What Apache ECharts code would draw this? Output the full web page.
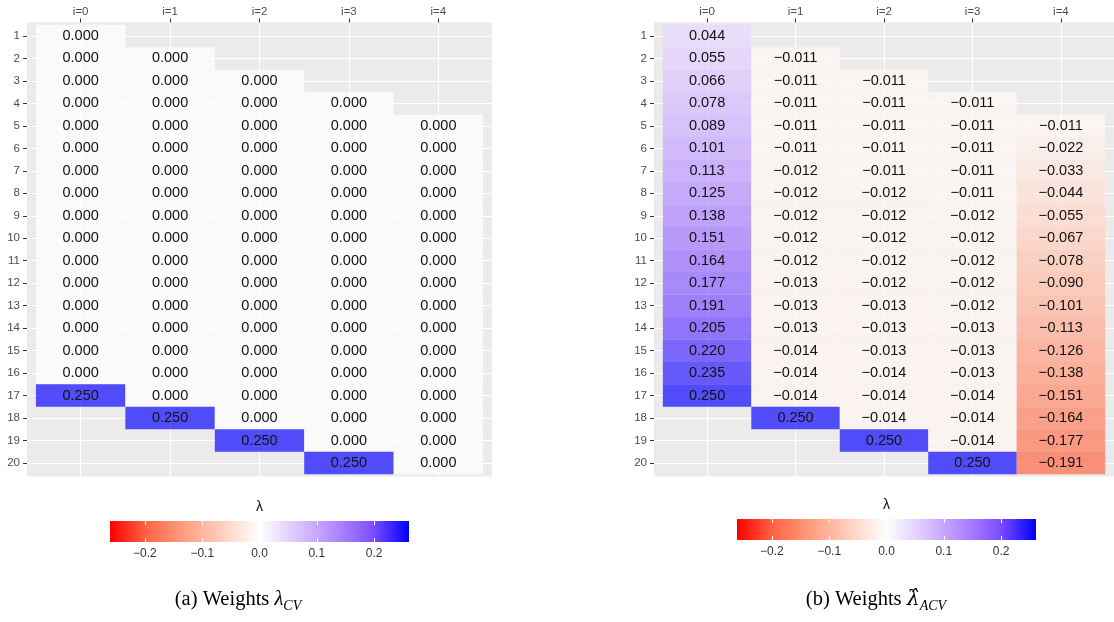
<!DOCTYPE html>
<html>
<head>
<meta charset="utf-8">
<script src="https://cdn.jsdelivr.net/npm/echarts@6/dist/echarts.min.js"></script>
<style>
  html, body { margin: 0; padding: 0; background: #fff; }
  #main { width: 1114px; height: 622px; }
</style>
</head>
<body>
<div id="main"></div>
<script>
// columns i=0..4, rows 1..20; column i starts at row firstRow[i]
var xLabels = ['i=0', 'i=1', 'i=2', 'i=3', 'i=4'];
var rowLabels = [1, 2, 3, 4, 5, 6, 7, 8, 9, 10, 11, 12, 13, 14, 15, 16, 17, 18, 19, 20];
var firstRow = [1, 2, 3, 4, 5];

// (a) weights lambda_CV
var cvWeights = [
  [0, 0, 0, 0, 0, 0, 0, 0, 0, 0, 0, 0, 0, 0, 0, 0, 0.250],
  [0, 0, 0, 0, 0, 0, 0, 0, 0, 0, 0, 0, 0, 0, 0, 0, 0.250],
  [0, 0, 0, 0, 0, 0, 0, 0, 0, 0, 0, 0, 0, 0, 0, 0, 0.250],
  [0, 0, 0, 0, 0, 0, 0, 0, 0, 0, 0, 0, 0, 0, 0, 0, 0.250],
  [0, 0, 0, 0, 0, 0, 0, 0, 0, 0, 0, 0, 0, 0, 0, 0]
];

// (b) weights lambda-hat_ACV
var acvWeights = [
  [0.044, 0.055, 0.066, 0.078, 0.089, 0.101, 0.113, 0.125, 0.138, 0.151, 0.164, 0.177, 0.191, 0.205, 0.220, 0.235, 0.250],
  [-0.011, -0.011, -0.011, -0.011, -0.011, -0.012, -0.012, -0.012, -0.012, -0.012, -0.013, -0.013, -0.013, -0.014, -0.014, -0.014, 0.250],
  [-0.011, -0.011, -0.011, -0.011, -0.011, -0.012, -0.012, -0.012, -0.012, -0.012, -0.013, -0.013, -0.013, -0.014, -0.014, -0.014, 0.250],
  [-0.011, -0.011, -0.011, -0.011, -0.011, -0.012, -0.012, -0.012, -0.012, -0.012, -0.013, -0.013, -0.013, -0.014, -0.014, -0.014, 0.250],
  [-0.011, -0.022, -0.033, -0.044, -0.055, -0.067, -0.078, -0.090, -0.101, -0.113, -0.126, -0.138, -0.151, -0.164, -0.177, -0.191]
];

var scaleLimit = 0.261;
var colorbarTicks = [-0.2, -0.1, 0, 0.1, 0.2];
var gradientColors = ['#ff0000', '#ff6746', '#ff9e81', '#ffcfbf', '#ffffff', '#dcc5ff', '#b38bff', '#7e51ff', '#0000ff'];

function toCells(cols) {
  var out = [];
  cols.forEach(function (col, c) {
    col.forEach(function (v, k) {
      out.push([c, firstRow[c] + k, v]);
    });
  });
  return out;
}

function fmt(v) {
  return (v < 0 ? '\u2212' : '') + Math.abs(v).toFixed(3);
}

function renderTile(params, api) {
  var x = api.value(0), y = api.value(1), v = api.value(2);
  var a = api.coord([x - 0.5, y - 0.5]);
  var b = api.coord([x + 0.5, y + 0.5]);
  return {
    type: 'group',
    children: [{
      type: 'rect',
      shape: {
        x: Math.min(a[0], b[0]), y: Math.min(a[1], b[1]),
        width: Math.abs(b[0] - a[0]), height: Math.abs(b[1] - a[1])
      },
      style: { fill: echarts.color.modifyAlpha(api.visual('color'), 0.72) }
    }, {
      type: 'text',
      x: (a[0] + b[0]) / 2,
      y: (a[1] + b[1]) / 2,
      style: {
        text: fmt(v), align: 'center', verticalAlign: 'middle',
        fill: '#111', font: '14.5px "Liberation Sans"'
      }
    }]
  };
}

function renderBar(params, api) {
  var a = api.coord([api.value(0), 0]);
  var b = api.coord([api.value(1), 1]);
  var stops = gradientColors.map(function (c, i) {
    return { offset: i / (gradientColors.length - 1), color: c };
  });
  return {
    type: 'rect',
    shape: { x: a[0], y: b[1], width: b[0] - a[0], height: a[1] - b[1] },
    style: { fill: new echarts.graphic.LinearGradient(0, 0, 1, 0, stops) }
  };
}

var xIdx = xLabels.map(function (_, i) { return i; });
var axisFont = { color: '#4d4d4d', fontSize: 11.5, fontFamily: 'Liberation Sans' };

function heatAxes(g) {
  return {
    x: {
      gridIndex: g, type: 'value', position: 'top', min: -0.6, max: 4.6,
      axisLine: { show: false, onZero: false },
      axisTick: { show: true, length: 4, customValues: xIdx, lineStyle: { color: '#333' } },
      axisLabel: Object.assign({ customValues: xIdx, margin: 5, formatter: function (v) { return xLabels[v]; } }, axisFont),
      splitLine: { show: true, lineStyle: { color: '#fff', width: 1.1 } }
    },
    y: {
      gridIndex: g, type: 'value', inverse: true, min: 0.4, max: 20.6,
      axisLine: { show: false, onZero: false },
      axisTick: { show: true, length: 4, customValues: rowLabels, lineStyle: { color: '#333' } },
      axisLabel: Object.assign({ customValues: rowLabels, margin: 7 }, axisFont),
      splitLine: { show: true, lineStyle: { color: '#fff', width: 1.1 } }
    }
  };
}

function barAxes(g) {
  var tick = { show: true, inside: true, length: 4, customValues: colorbarTicks, lineStyle: { color: '#fff', width: 1 } };
  return {
    xs: [{
      gridIndex: g, type: 'value', position: 'bottom', min: -scaleLimit, max: scaleLimit, z: 10,
      axisLine: { show: false, onZero: false }, axisTick: tick, splitLine: { show: false },
      axisLabel: {
        customValues: colorbarTicks, margin: 6, color: '#333', fontSize: 12, fontFamily: 'Liberation Sans',
        formatter: function (v) { return (v < 0 ? '\u2212' : '') + Math.abs(v).toFixed(1); }
      }
    }, {
      gridIndex: g, type: 'value', position: 'top', min: -scaleLimit, max: scaleLimit, z: 10,
      axisLine: { show: false, onZero: false }, axisTick: tick, splitLine: { show: false }, axisLabel: { show: false }
    }],
    y: { gridIndex: g, type: 'value', min: 0, max: 1, show: false }
  };
}

var hA = heatAxes(0), hB = heatAxes(1), bA = barAxes(2), bB = barAxes(3);

var myChart = echarts.init(document.getElementById('main'));
var option = {
  animation: false,
  backgroundColor: '#fff',
  grid: [
    { left: 27, top: 22.5, width: 465, height: 454, show: true, backgroundColor: '#ebebeb', borderWidth: 0 },
    { left: 654, top: 22.5, width: 465, height: 454, show: true, backgroundColor: '#ebebeb', borderWidth: 0 },
    { left: 110, top: 521, width: 299, height: 21 },
    { left: 737, top: 519, width: 299, height: 21 }
  ],
  xAxis: [hA.x, hB.x, bA.xs[0], bA.xs[1], bB.xs[0], bB.xs[1]],
  yAxis: [hA.y, hB.y, bA.y, bB.y],
  visualMap: {
    show: false, type: 'continuous', min: -scaleLimit, max: scaleLimit,
    dimension: 2, seriesIndex: [0, 1],
    inRange: { color: gradientColors }
  },
  series: [
    { type: 'custom', xAxisIndex: 0, yAxisIndex: 0, renderItem: renderTile, data: toCells(cvWeights) },
    { type: 'custom', xAxisIndex: 1, yAxisIndex: 1, renderItem: renderTile, data: toCells(acvWeights) },
    { type: 'custom', xAxisIndex: 2, yAxisIndex: 2, renderItem: renderBar, data: [[-scaleLimit, scaleLimit]], z: 1 },
    { type: 'custom', xAxisIndex: 4, yAxisIndex: 3, renderItem: renderBar, data: [[-scaleLimit, scaleLimit]], z: 1 }
  ],
  graphic: [
    { type: 'text', x: 259.5, y: 507, style: { text: 'λ', align: 'center', verticalAlign: 'middle', fill: '#111', font: '14px "Liberation Sans"' } },
    { type: 'text', x: 886.5, y: 505, style: { text: 'λ', align: 'center', verticalAlign: 'middle', fill: '#111', font: '14px "Liberation Sans"' } },
    {
      type: 'text', x: 238, y: 600,
      style: {
        text: '(a) Weights {l|λ}{s|CV}', align: 'center', verticalAlign: 'middle',
        fill: '#000', font: '20.5px "Liberation Serif"',
        rich: {
          l: { fontSize: 20.5, fontFamily: 'Liberation Serif', fontStyle: 'italic' },
          s: { fontSize: 14, fontFamily: 'Liberation Serif', fontStyle: 'italic', padding: [13, 0, 0, 0] }
        }
      }
    },
    {
      type: 'text', x: 876, y: 600,
      style: {
        text: '(b) Weights {l|λ\u0302}{s|ACV}', align: 'center', verticalAlign: 'middle',
        fill: '#000', font: '20.5px "Liberation Serif"',
        rich: {
          l: { fontSize: 20.5, fontFamily: 'DejaVu Serif', fontStyle: 'italic' },
          s: { fontSize: 14, fontFamily: 'Liberation Serif', fontStyle: 'italic', padding: [13, 0, 0, 0] }
        }
      }
    }
  ]
};
myChart.setOption(option);
</script>
</body>
</html>
